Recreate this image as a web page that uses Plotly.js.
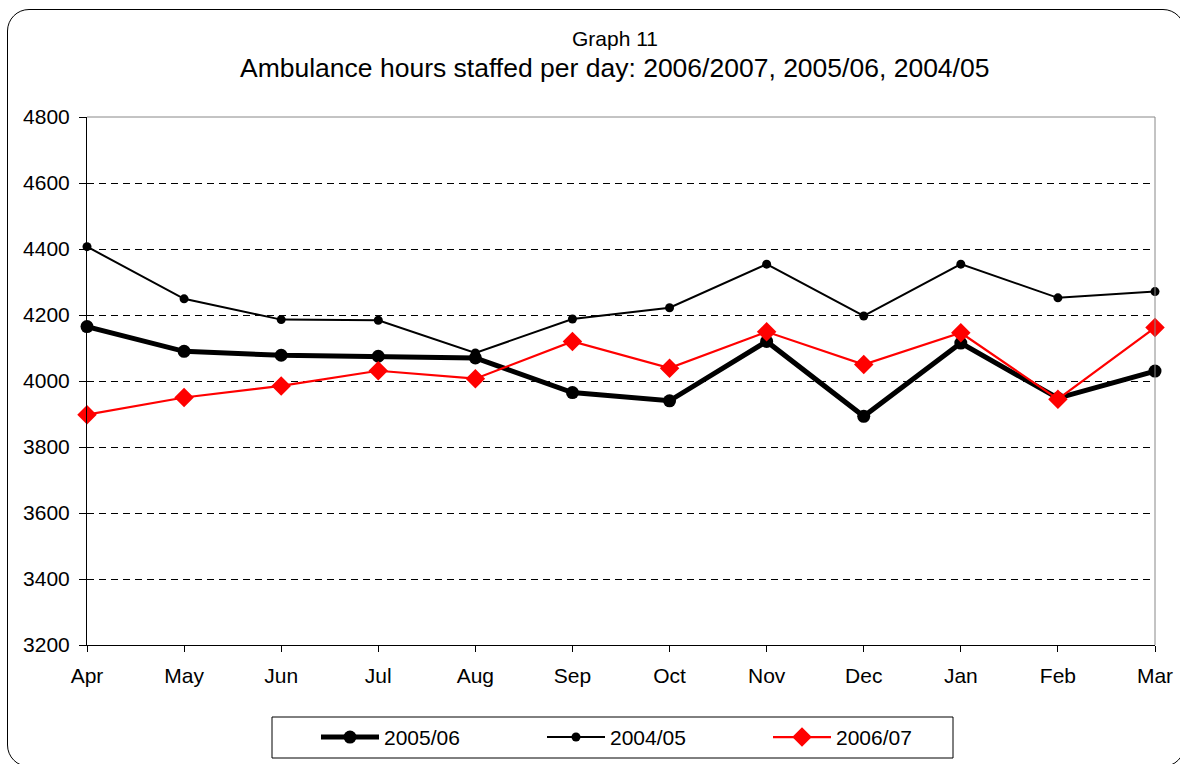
<!DOCTYPE html>
<html>
<head>
<meta charset="utf-8">
<script src="https://cdn.plot.ly/plotly-3.0.1.min.js"></script>
<style>
  html, body { margin: 0; padding: 0; background: #ffffff; overflow: hidden; }
  #wrap { position: relative; width: 1180px; height: 764px; overflow: hidden; }
  #chart { position: absolute; left: 0; top: 0; width: 1180px; height: 764px; }
  #frame { position: absolute; left: 7px; top: 9px; width: 1178px; height: 758px;
           border: 1.4px solid #000; border-radius: 22px; pointer-events: none; box-sizing: border-box; }
</style>
</head>
<body>
<div id="wrap">
  <div id="chart"></div>
  <div id="frame"></div>
</div>
<script>
const months = ["Apr","May","Jun","Jul","Aug","Sep","Oct","Nov","Dec","Jan","Feb","Mar"];
const s200506 = [4165, 4090, 4078, 4075, 4070, 3965, 3940, 4120, 3893, 4115, 3948, 4030];
const s200405 = [4407, 4249, 4186, 4184, 4085, 4188, 4222, 4354, 4197, 4354, 4252, 4271];
const s200607 = [3898, 3950, 3985, 4031, 4007, 4120, 4039, 4149, 4050, 4146, 3945, 4162];
const yTicks = [3200, 3400, 3600, 3800, 4000, 4200, 4400, 4600, 4800];

const fontFam = "Liberation Sans, Arial, sans-serif";

const traces = [
  { x: months, y: s200506, name: "2005/06", type: "scatter", mode: "lines+markers", cliponaxis: false,
    line: { color: "#000000", width: 5 }, marker: { symbol: "circle", size: 13, color: "#000000" } },
  { x: months, y: s200405, name: "2004/05", type: "scatter", mode: "lines+markers", cliponaxis: false,
    line: { color: "#000000", width: 2 }, marker: { symbol: "circle", size: 9, color: "#000000" } },
  { x: months, y: s200607, name: "2006/07", type: "scatter", mode: "lines+markers", cliponaxis: false,
    line: { color: "#ff0000", width: 2.2 }, marker: { symbol: "diamond", size: 15, color: "#ff0000" } }
];

const layout = {
  width: 1180, height: 764,
  margin: { l: 87, r: 25, t: 117, b: 119, autoexpand: false },
  paper_bgcolor: "rgba(0,0,0,0)",
  plot_bgcolor: "#ffffff",
  font: { family: fontFam, size: 21, color: "#000000" },
  showlegend: true,
  legend: {
    orientation: "h", x: (316 - 87) / 1068, xanchor: "left", y: -0.175, yanchor: "middle",
    borderwidth: 0, bgcolor: "rgba(0,0,0,0)",
    itemwidth: 58, entrywidth: 153, font: { family: fontFam, size: 21 },
    traceorder: "normal"
  },
  xaxis: {
    type: "category", range: [0, 11], showgrid: false, zeroline: false,
    showline: true, linecolor: "#000000", linewidth: 1,
    ticks: "outside", ticklen: 6, tickcolor: "#000000",
    tickfont: { family: fontFam, size: 21 }, ticklabelstandoff: 6
  },
  yaxis: {
    range: [3200, 4800], tickvals: yTicks, ticktext: yTicks.map(String),
    showgrid: true, gridcolor: "#000000", gridwidth: 1, griddash: "7px,5px",
    zeroline: false, showline: true, linecolor: "#000000", linewidth: 1,
    ticks: "outside", ticklen: 7, tickcolor: "#000000",
    tickfont: { family: fontFam, size: 21 }, ticklabelstandoff: 5
  },
  shapes: [
    { type: "line", xref: "paper", yref: "paper", x0: 0, x1: 1, y0: 1, y1: 1,
      line: { color: "#888888", width: 1 } },
    { type: "line", xref: "paper", yref: "paper", x0: 1, x1: 1, y0: 0, y1: 1,
      line: { color: "#888888", width: 1 } },
    { type: "rect", xref: "paper", yref: "paper",
      x0: (272 - 87) / 1068, x1: (953 - 87) / 1068, y0: (645 - 758) / 528, y1: (645 - 717) / 528,
      line: { color: "#000000", width: 1 }, fillcolor: "rgba(0,0,0,0)" }
  ],
  annotations: [
    { text: "Graph 11", xref: "paper", yref: "paper", x: 0.494, y: 1.149,
      xanchor: "center", yanchor: "middle", showarrow: false,
      font: { family: fontFam, size: 21 } },
    { text: "Ambulance hours staffed per day: 2006/2007, 2005/06, 2004/05", xref: "paper", yref: "paper",
      x: 0.494, y: 1.093, xanchor: "center", yanchor: "middle", showarrow: false,
      font: { family: fontFam, size: 26.5 } }
  ]
};

Plotly.newPlot("chart", traces, layout, { staticPlot: true, displayModeBar: false });
</script>
</body>
</html>
